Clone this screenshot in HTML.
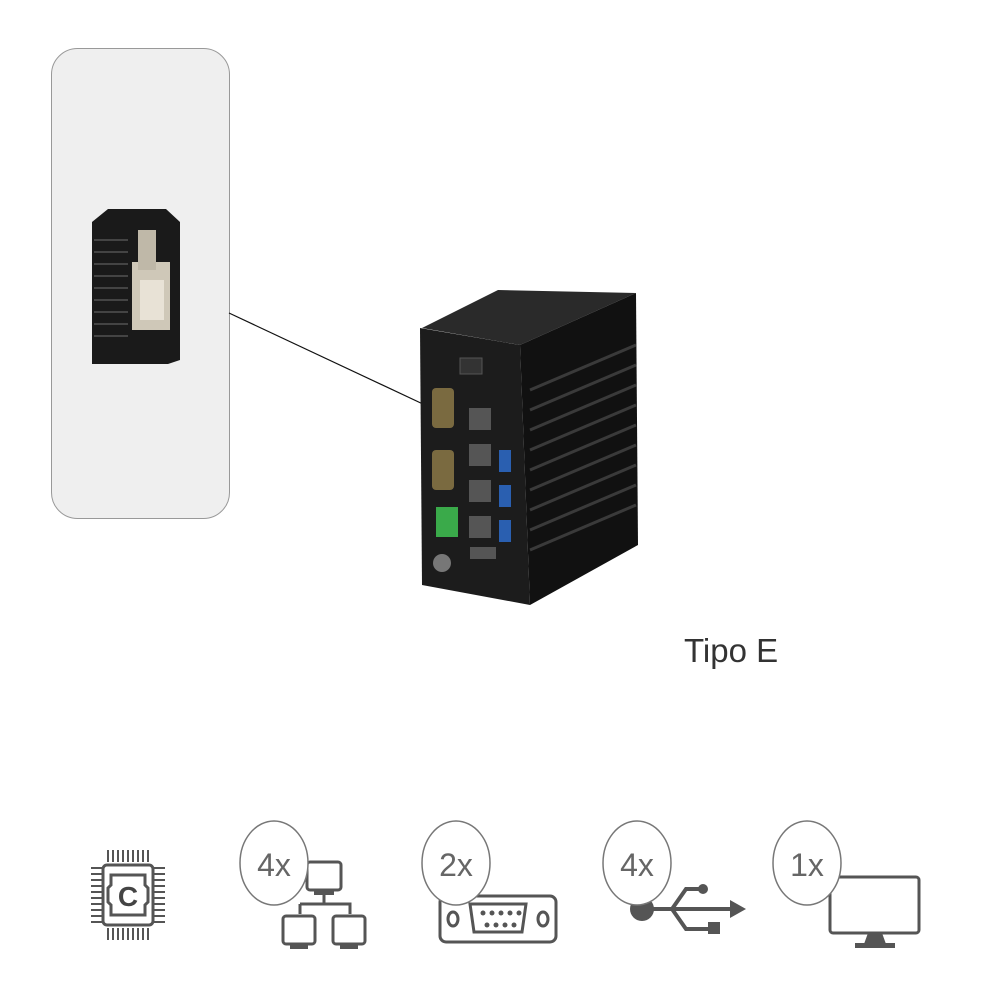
<!DOCTYPE html>
<html><head><meta charset="utf-8"><style>
body{margin:0;background:#fff;width:1000px;height:1000px;overflow:hidden}
svg{display:block}
</style></head><body>
<svg width="1000" height="1000" viewBox="0 0 1000 1000" xmlns="http://www.w3.org/2000/svg">
<rect x="51.5" y="48.5" width="178" height="470" rx="26" fill="#efefef" stroke="#999" stroke-width="1"/>
<!-- small device -->
<polygon points="92,222 108,209 166,209 180,222 180,360 168,364 92,364" fill="#1a1a1a"/>
<g stroke="#444" stroke-width="2">
<line x1="94" y1="240" x2="128" y2="240"/><line x1="94" y1="252" x2="128" y2="252"/><line x1="94" y1="264" x2="128" y2="264"/><line x1="94" y1="276" x2="128" y2="276"/><line x1="94" y1="288" x2="128" y2="288"/><line x1="94" y1="300" x2="128" y2="300"/><line x1="94" y1="312" x2="128" y2="312"/><line x1="94" y1="324" x2="128" y2="324"/><line x1="94" y1="336" x2="128" y2="336"/>
</g>
<rect x="132" y="262" width="38" height="68" fill="#cfc8b8"/>
<rect x="138" y="230" width="18" height="40" fill="#bfb8a8"/>
<rect x="140" y="280" width="24" height="40" fill="#e8e2d6"/>
<line x1="229" y1="313" x2="425" y2="405" stroke="#111" stroke-width="1.2"/>
<!-- main device -->
<polygon points="422,328 498,290 636,293 520,345" fill="#2a2a2a"/>
<polygon points="520,345 636,293 638,545 530,605" fill="#111"/>
<g stroke="#3a3a3a" stroke-width="3">
<line x1="530" y1="390" x2="636" y2="345"/><line x1="530" y1="410" x2="636" y2="365"/><line x1="530" y1="430" x2="636" y2="385"/><line x1="530" y1="450" x2="636" y2="405"/><line x1="530" y1="470" x2="636" y2="425"/><line x1="530" y1="490" x2="636" y2="445"/><line x1="530" y1="510" x2="636" y2="465"/><line x1="530" y1="530" x2="636" y2="485"/><line x1="530" y1="550" x2="636" y2="505"/>
</g>
<polygon points="420,328 520,345 530,605 422,585" fill="#1c1c1c"/>
<rect x="460" y="358" width="22" height="16" fill="#333" stroke="#555"/>
<rect x="432" y="388" width="22" height="40" rx="4" fill="#7a6a40"/>
<rect x="432" y="450" width="22" height="40" rx="4" fill="#7a6a40"/>
<rect x="469" y="408" width="22" height="22" fill="#555"/>
<rect x="469" y="444" width="22" height="22" fill="#555"/>
<rect x="469" y="480" width="22" height="22" fill="#555"/>
<rect x="469" y="516" width="22" height="22" fill="#555"/>
<rect x="499" y="450" width="12" height="22" fill="#2a5fb0"/>
<rect x="499" y="485" width="12" height="22" fill="#2a5fb0"/>
<rect x="499" y="520" width="12" height="22" fill="#2a5fb0"/>
<rect x="436" y="507" width="22" height="30" fill="#3aaa4a"/>
<rect x="470" y="547" width="26" height="12" fill="#555"/>
<circle cx="442" cy="563" r="9" fill="#777"/>
<text x="684" y="662" font-family="Liberation Sans, sans-serif" font-size="33" fill="#333">Tipo E</text>
<!-- icons -->
<g fill="none" stroke="#555" stroke-width="3">
<rect x="103" y="865" width="50" height="60" rx="4"/>
<path d="M111 875h34v10l3 3v14l-3 3v10h-34v-10l-3-3v-14l3-3z"/>
</g>
<g stroke="#555" stroke-width="2">
<path d="M108 850v12M113 850v12M118 850v12M123 850v12M128 850v12M133 850v12M138 850v12M143 850v12M148 850v12"/>
<path d="M108 928v12M113 928v12M118 928v12M123 928v12M128 928v12M133 928v12M138 928v12M143 928v12M148 928v12"/>
<path d="M91 868h12M91 874h12M91 880h12M91 886h12M91 892h12M91 898h12M91 904h12M91 910h12M91 916h12M91 922h12"/>
<path d="M153 868h12M153 874h12M153 880h12M153 886h12M153 892h12M153 898h12M153 904h12M153 910h12M153 916h12M153 922h12"/>
</g>
<text x="128" y="906" text-anchor="middle" font-family="Liberation Sans, sans-serif" font-weight="bold" font-size="28" fill="#444">C</text>
<g fill="none" stroke="#555" stroke-width="3">
<rect x="307" y="862" width="34" height="28" rx="3"/>
<path d="M324 890v14M300 904h50v10M300 904v10"/>
<rect x="283" y="916" width="32" height="28" rx="3"/>
<rect x="333" y="916" width="32" height="28" rx="3"/>
</g>
<rect x="290" y="944" width="18" height="5" fill="#555"/><rect x="340" y="944" width="18" height="5" fill="#555"/>
<rect x="314" y="890" width="20" height="5" fill="#555"/>
<ellipse cx="274" cy="863" rx="34" ry="42" fill="#fff" stroke="#777" stroke-width="1.5"/>
<text x="274" y="876" text-anchor="middle" font-family="Liberation Sans, sans-serif" font-size="32" fill="#666">4x</text>
<g fill="none" stroke="#555" stroke-width="3">
<rect x="440" y="896" width="116" height="46" rx="6"/>
<path d="M470 904h56l-4 28h-48z"/>
<ellipse cx="453" cy="919" rx="5" ry="7"/><ellipse cx="543" cy="919" rx="5" ry="7"/>
</g>
<g fill="#555"><circle cx="483" cy="913" r="2.5"/><circle cx="492" cy="913" r="2.5"/><circle cx="501" cy="913" r="2.5"/><circle cx="510" cy="913" r="2.5"/><circle cx="519" cy="913" r="2.5"/><circle cx="487" cy="925" r="2.5"/><circle cx="496" cy="925" r="2.5"/><circle cx="505" cy="925" r="2.5"/><circle cx="514" cy="925" r="2.5"/></g>
<ellipse cx="456" cy="863" rx="34" ry="42" fill="#fff" stroke="#777" stroke-width="1.5"/>
<text x="456" y="876" text-anchor="middle" font-family="Liberation Sans, sans-serif" font-size="32" fill="#666">2x</text>
<g fill="none" stroke="#555" stroke-width="4">
<path d="M640 909h92M672 909l14-20h14M672 909l14 20h22"/>
</g>
<circle cx="642" cy="909" r="12" fill="#555"/><circle cx="703" cy="889" r="5" fill="#555"/><rect x="708" y="922" width="12" height="12" fill="#555"/>
<polygon points="730,900 746,909 730,918" fill="#555"/>
<ellipse cx="637" cy="863" rx="34" ry="42" fill="#fff" stroke="#777" stroke-width="1.5"/>
<text x="637" y="876" text-anchor="middle" font-family="Liberation Sans, sans-serif" font-size="32" fill="#666">4x</text>
<rect x="830" y="877" width="89" height="56" rx="3" fill="none" stroke="#555" stroke-width="3"/>
<polygon points="868,933 882,933 886,944 864,944" fill="#555"/><rect x="855" y="943" width="40" height="5" fill="#555"/>
<ellipse cx="807" cy="863" rx="34" ry="42" fill="#fff" stroke="#777" stroke-width="1.5"/>
<text x="807" y="876" text-anchor="middle" font-family="Liberation Sans, sans-serif" font-size="32" fill="#666">1x</text>
</svg>
</body></html>
